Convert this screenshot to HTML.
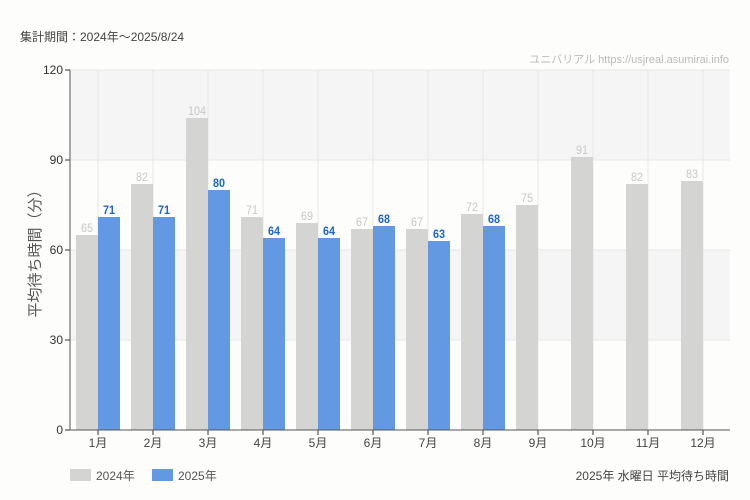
<!DOCTYPE html>
<html><head><meta charset="utf-8"><style>
body{margin:0;background:#fdfdfb;}
svg{display:block;font-family:"Liberation Sans","Noto Sans CJK JP",sans-serif;}
</style></head><body>
<svg id="c" width="750" height="500">
<rect width="750" height="500" fill="#fdfdfb"/>
<text x="20" y="41" font-size="12" fill="#444">集計期間：2024年～2025/8/24</text>
<text x="729" y="63" font-size="11" fill="#bbb" text-anchor="end">ユニバリアル  https://usjreal.asumirai.info</text>
<text transform="translate(40,250) rotate(-90)" font-size="15" fill="#555" text-anchor="middle">平均待ち時間（分）</text>
<g id="plot"></g>
<rect x="70" y="469" width="21" height="12" fill="#d4d4d2"/>
<text x="96" y="480" font-size="12" fill="#555">2024年</text>
<rect x="152" y="469" width="21" height="12" fill="#6399e2"/>
<text x="178" y="480" font-size="12" fill="#555">2025年</text>
<text x="729" y="480" font-size="12" fill="#444" text-anchor="end">2025年 水曜日 平均待ち時間</text>
</svg>
<script>
const categories=["1月","2月","3月","4月","5月","6月","7月","8月","9月","10月","11月","12月"];
const values2024=[65,82,104,71,69,67,67,72,75,91,82,83];
const values2025=[71,71,80,64,64,68,63,68,null,null,null,null];
const yTicks=[0,30,60,90,120];
const NS="http://www.w3.org/2000/svg";
const g=document.getElementById('plot');
const L=70,R=730,T=70,B=430,yMax=120;
const step=(R-L)/categories.length;
const y=v=>B-(v/yMax)*(B-T);
const cx=i=>L+step*(i+0.5)+0.5;
function mk(t,a,p){const e=document.createElementNS(NS,t);for(const k in a)e.setAttribute(k,a[k]);(p||g).appendChild(e);return e;}
for(let i=0;i<yTicks.length-1;i++){
  const b=mk('rect',{x:L,y:y(yTicks[i+1]),width:R-L,height:y(yTicks[i])-y(yTicks[i+1]),fill:i%2?'#f5f5f5':'#fdfdfb'});
  
  
}
yTicks.forEach(t=>{
  const l=mk('line',{x1:L,x2:R,y1:y(t),y2:y(t),stroke:'#e6e6e6'});
  
  
  const k=mk('line',{x1:L-5,x2:L,y1:y(t),y2:y(t),stroke:'#333'});
  
  
  const tx=mk('text',{x:L-7,y:y(t)+4,'font-size':12,fill:'#333','text-anchor':'end'});
  tx.textContent=t;
  
  
});
categories.forEach((c,i)=>{
  const l=mk('line',{x1:cx(i),x2:cx(i),y1:T,y2:B,stroke:'#e6e6e6'});
  
  
});
const bw=22;
categories.forEach((c,i)=>{
  const v=values2024[i];
  if(v!=null){
    const r=mk('rect',{x:cx(i)-bw,y:y(v),width:bw,height:B-y(v),fill:'#d4d4d2'});
    
    
    const t=mk('text',{x:cx(i)-bw/2,y:y(v)-3,'font-size':12,fill:'#c8c8c8','text-anchor':'middle','font-family':'Liberation Sans Narrow, Liberation Sans, sans-serif','textLength':String(v).length*6,'lengthAdjust':'spacingAndGlyphs'});
    t.textContent=v;
    
    
  }
  const w=values2025[i];
  if(w!=null){
    const r=mk('rect',{x:cx(i),y:y(w),width:bw,height:B-y(w),fill:'#6399e2'});
    
    
    const t=mk('text',{x:cx(i)+bw/2,y:y(w)-3,'font-size':12,'font-weight':'bold',fill:'#1a66d0','text-anchor':'middle','font-family':'Liberation Sans Narrow, Liberation Sans, sans-serif','textLength':String(w).length*6,'lengthAdjust':'spacingAndGlyphs'});
    t.textContent=w;
    
    
  }
  const k=mk('line',{x1:cx(i),x2:cx(i),y1:B,y2:B+5,stroke:'#333'});
  
  
  const tx=mk('text',{x:cx(i),y:B+17,'font-size':12,fill:'#444','text-anchor':'middle'});
  tx.textContent=c;
  
  
});
const ax=mk('line',{x1:L,x2:L,y1:T,y2:B,stroke:'#555'});


const bx=mk('line',{x1:L,x2:R,y1:B,y2:B,stroke:'#555'});


</script>
</body></html>
